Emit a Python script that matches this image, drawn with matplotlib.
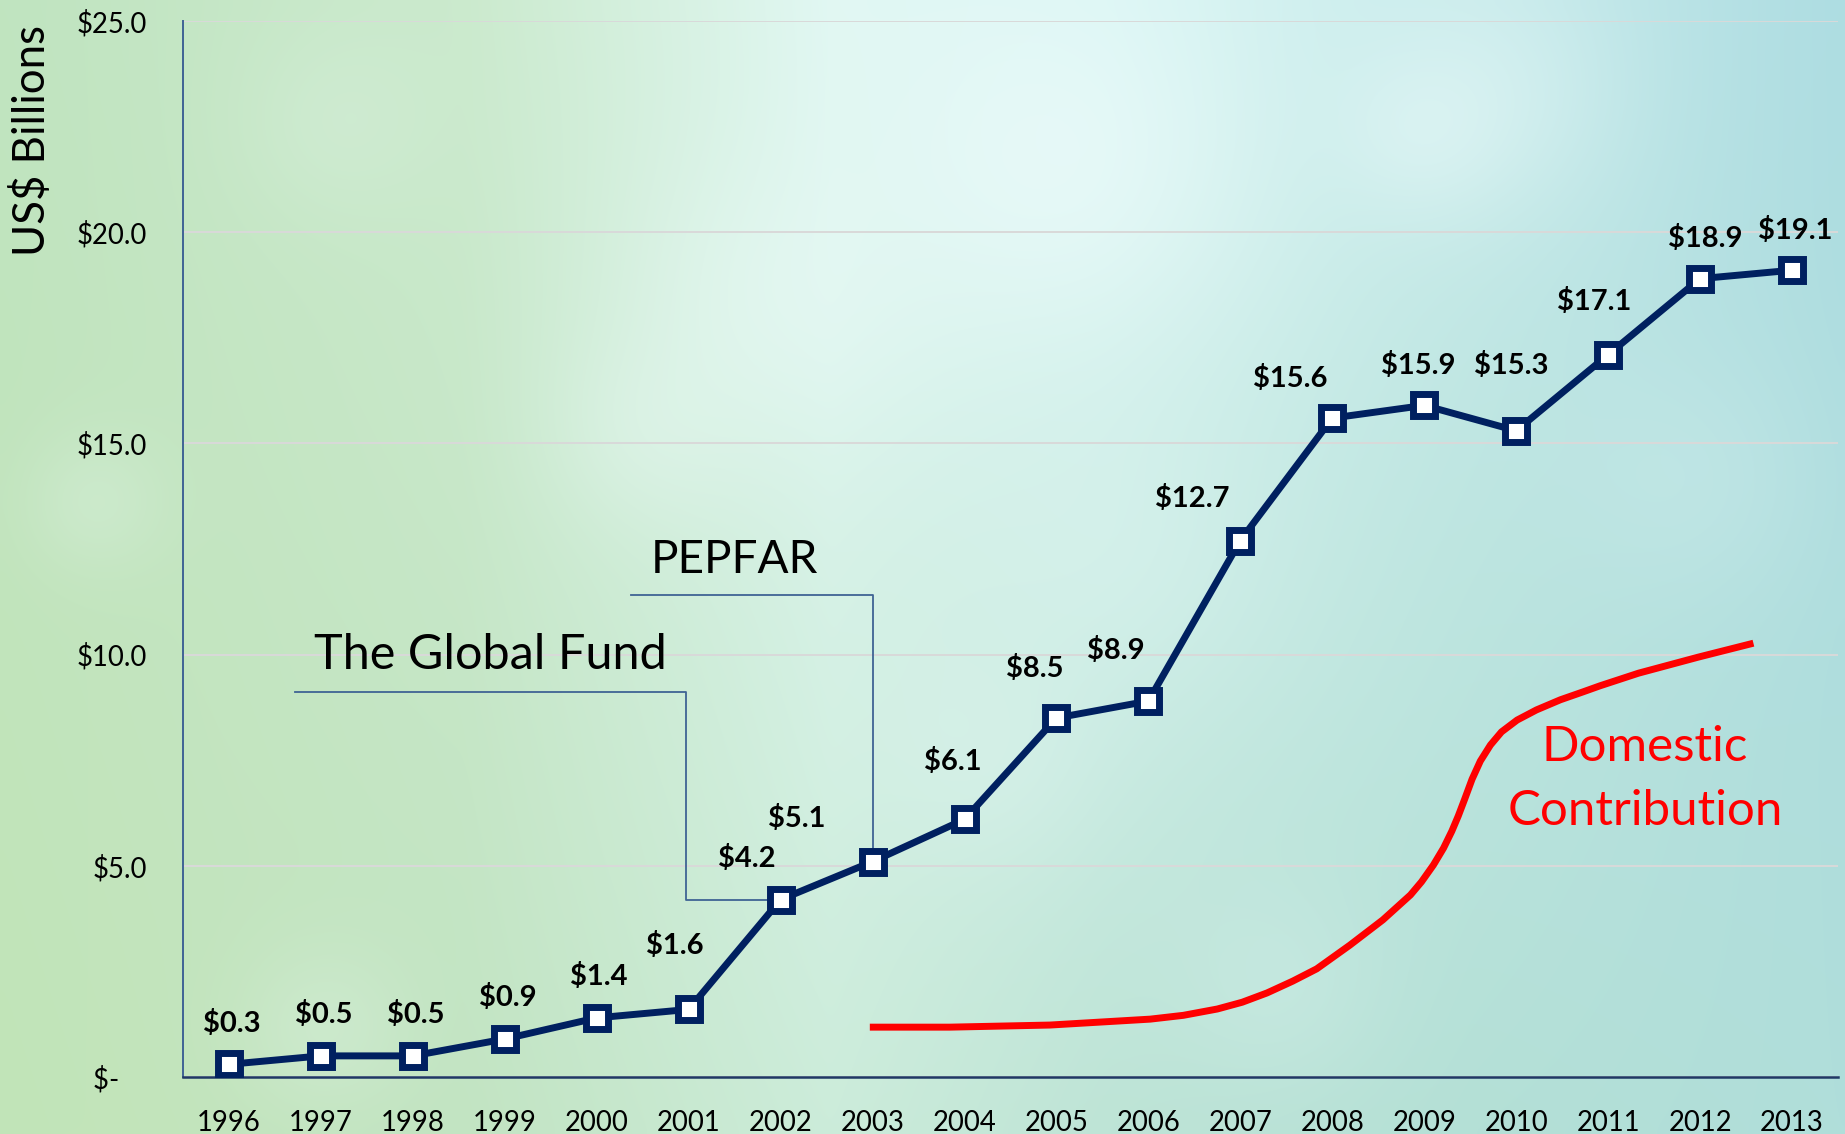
import numpy as np
import matplotlib
matplotlib.use('Agg')
import matplotlib.pyplot as plt

# フォント設定
plt.rcParams['font.family'] = ['Lato', 'DejaVu Sans']

# データ
years = ['1996', '1997', '1998', '1999', '2000', '2001', '2002', '2003', '2004',
         '2005', '2006', '2007', '2008', '2009', '2010', '2011', '2012', '2013']
spending = [0.3, 0.5, 0.5, 0.9, 1.4, 1.6, 4.2, 5.1, 6.1,
            8.5, 8.9, 12.7, 15.6, 15.9, 15.3, 17.1, 18.9, 19.1]
y_ticks = [0, 5, 10, 15, 20, 25]
y_tick_labels = ['$-    ', '$5.0', '$10.0', '$15.0', '$20.0', '$25.0']

# 国内拠出（手描きの曲線を読み取った点、x は年のインデックス）
domestic_x = [6.97, 7.84, 8.93, 10.02, 10.38, 10.75, 11.02, 11.29, 11.57, 11.83,
              12.19, 12.55, 12.85, 12.97, 13.10, 13.21, 13.30, 13.37, 13.44,
              13.52, 13.61, 13.72, 13.84, 14.01, 14.22, 14.48, 14.73, 14.91,
              15.33, 15.98, 16.58]
domestic_y = [1.18, 1.18, 1.23, 1.37, 1.46, 1.61, 1.77, 1.99, 2.27, 2.56,
              3.12, 3.72, 4.31, 4.62, 5.02, 5.42, 5.82, 6.18, 6.58,
              7.05, 7.48, 7.86, 8.17, 8.45, 8.69, 8.93, 9.12, 9.26,
              9.56, 9.94, 10.27]

# データラベルの位置調整（ピクセル）
label_dx = [3, 3, 3, 3, 2, -14, -34, -76, -12, -22, -33, -48, -42, -6, -5, -14, 5, 3]
label_dy = [41, 41, 41, 41, 41, 64, 41, 43, 58, 49, 51, 42, 40, 40, 65, 53, 40, 40]

NAVY = '#002060'
LINK = '#3f6394'

fig = plt.figure(figsize=(18.45, 11.34), dpi=100)

# 背景（ボケ風グラデーション）
H, W = 114, 185
gx = np.linspace(0, 1, W)
gy = np.linspace(0, 1, H)[:, None]
cols_x = [0.0, 0.25, 0.45, 0.6, 0.8, 1.0]
top = np.array([[192, 228, 192], [203, 234, 205], [224, 247, 242],
                [216, 245, 243], [198, 234, 234], [174, 221, 226]], float)
bot = np.array([[194, 228, 184], [194, 228, 194], [204, 236, 218],
                [190, 228, 214], [180, 224, 214], [176, 222, 218]], float)
row_t = np.stack([np.interp(gx, cols_x, top[:, c]) for c in range(3)], -1)
row_b = np.stack([np.interp(gx, cols_x, bot[:, c]) for c in range(3)], -1)
img = row_t[None, :, :] * (1 - gy[..., None]) + row_b[None, :, :] * gy[..., None]
img = img / 255.0
XX, YY = np.meshgrid(np.arange(W) * 10, np.arange(H) * 10)
blobs = [(1060, 160, 140, 0.6), (760, 300, 110, 0.35), (1500, 90, 90, 0.3),
         (1420, 130, 60, 0.3), (640, 430, 70, 0.25), (320, 1030, 60, 0.2),
         (990, 760, 80, 0.2), (1120, 560, 110, 0.2), (1700, 480, 90, 0.15),
         (90, 500, 50, 0.2), (330, 120, 70, 0.15), (1280, 990, 70, 0.15)]
for bx, by, br, ba in blobs:
    w = ba * np.exp(-((XX - bx) ** 2 + (YY - by) ** 2) / (2 * br ** 2))
    img = img * (1 - w[..., None]) + np.array([0.94, 0.99, 0.99]) * w[..., None]
bg = fig.add_axes([0, 0, 1, 1], zorder=-10)
bg.imshow(img, aspect='auto', interpolation='bicubic', extent=[0, 1, 0, 1])
bg.axis('off')

ax = fig.add_axes([183 / 1845, 57 / 1134, 1655 / 1845, 1056 / 1134])
ax.patch.set_alpha(0)
x = np.arange(len(years))

ax.set_xlim(-0.5, len(years) - 0.5)
ax.set_ylim(0, 25)
ax.set_yticks(y_ticks)
ax.set_yticklabels(y_tick_labels)
ax.set_xticks(x)
ax.set_xticklabels(years)
ax.tick_params(axis='both', length=0, labelsize=19.8, colors='black')
ax.tick_params(axis='x', pad=24)
ax.tick_params(axis='y', pad=26)
ax.grid(axis='y', color='#d9d9d9', linewidth=1.4)
ax.set_axisbelow(True)
for s in ['top', 'right']:
    ax.spines[s].set_visible(False)
ax.spines['left'].set_color('#3f6394')
ax.spines['left'].set_linewidth(1.4)
ax.spines['bottom'].set_color('#1f3864')
ax.spines['bottom'].set_linewidth(1.8)

# 国内拠出の曲線
ax.plot(domestic_x, domestic_y, color='#ff0000', linewidth=5,
        solid_capstyle='butt', solid_joinstyle='round', zorder=3)
ax.text(15.40, 7.81, 'Domestic', color='#ff0000', fontsize=35.5,
        ha='center', va='center')
ax.text(15.40, 6.30, 'Contribution', color='#ff0000', fontsize=35.5,
        ha='center', va='center')

# 吹き出し線（The Global Fund / PEPFAR）
gf_i = years.index('2002')
pf_i = years.index('2003')
ax.plot([0.72, 4.97, 4.97, gf_i], [9.11, 9.11, spending[gf_i], spending[gf_i]],
        color=LINK, linewidth=1.3, zorder=2)
ax.plot([4.37, pf_i, pf_i], [11.41, 11.41, spending[pf_i]],
        color=LINK, linewidth=1.3, zorder=2)
ax.text(0.925, 10.0, 'The Global Fund', fontsize=35, ha='left', va='center')
ax.text(4.59, 12.24, 'PEPFAR', fontsize=33, ha='left', va='center')

# 支出の折れ線
ax.plot(x, spending, color=NAVY, linewidth=5, marker='s', markersize=16,
        markerfacecolor='white', markeredgecolor=NAVY, markeredgewidth=5,
        zorder=5)
for i, v in enumerate(spending):
    ax.annotate(f'${v:.1f}', (x[i], v), xytext=(label_dx[i], label_dy[i]),
                textcoords='offset pixels', ha='center', va='center',
                fontsize=21, fontweight='bold', color='black', zorder=6)

fig.text(32 / 1845, 1 - 141 / 1134, 'US$ Billions', rotation=90,
         fontsize=31.5, ha='center', va='center')

fig.savefig('out.png', dpi=100)
